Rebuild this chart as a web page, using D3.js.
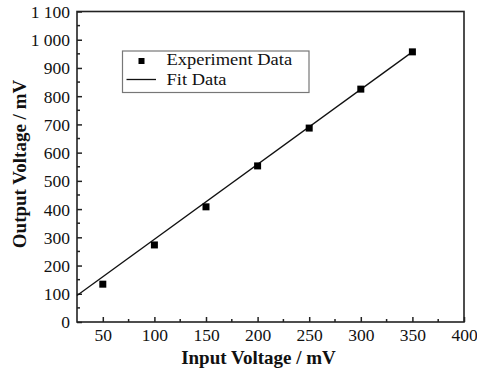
<!DOCTYPE html>
<html>
<head>
<meta charset="utf-8">
<script src="https://cdn.jsdelivr.net/npm/d3@7"></script>
<style>
  html, body { margin: 0; padding: 0; background: #fff; }
  svg { display: block; font-family: "Liberation Serif", "Times New Roman", serif; }
</style>
</head>
<body>
<svg id="chart" width="477" height="371"></svg>
<script>
// données
const inputV = [50, 100, 150, 200, 250, 300, 350];
const outputV = [134, 273, 408, 553, 687, 825, 957];
// droite d'ajustement (extrémités)
const fitX = [25, 350];
const fitY = [94, 957];
const xTicks = [50, 100, 150, 200, 250, 300, 350, 400];
const yTicks = [0, 100, 200, 300, 400, 500, 600, 700, 800, 900, 1000, 1100];
const legendLabels = ['Experiment Data', 'Fit Data'];

const svg = d3.select('#chart');
const L = 77, R = 464, T = 11.5, B = 322;

const x = d3.scaleLinear().domain([25, 400]).range([L, R]);
const y = d3.scaleLinear().domain([0, 1100]).range([B, T]);

const fmtY = v => v >= 1000 ? String(v).replace(/(\d)(\d{3})$/, '$1 $2') : String(v);

// cadre
svg.append('rect')
  .attr('x', L).attr('y', T).attr('width', R - L).attr('height', B - T)
  .attr('fill', 'none').attr('stroke', '#222').attr('stroke-width', 1.6);

// axe X (graduations vers l'intérieur)
const xMinor = d3.range(75, 400, 50);
const gx = svg.append('g').attr('transform', `translate(0,${B})`);
gx.call(d3.axisBottom(x).tickValues(xTicks).tickSize(-5).tickFormat(d => d));
gx.select('.domain').remove();
gx.selectAll('.tick line').attr('stroke', '#222').attr('stroke-width', 1.5);
gx.selectAll('.tick text')
  .attr('y', 19).attr('dy', 0)
  .attr('font-family', '"Liberation Serif", serif')
  .attr('font-size', 17.5).attr('fill', '#111');
gx.selectAll('.minor').data(xMinor).enter().append('line')
  .attr('x1', d => x(d)).attr('x2', d => x(d))
  .attr('y1', 0).attr('y2', -3)
  .attr('stroke', '#222').attr('stroke-width', 1.5);

// axe Y
const yMinor = d3.range(50, 1100, 100);
const gy = svg.append('g').attr('transform', `translate(${L},0)`);
gy.call(d3.axisLeft(y).tickValues(yTicks).tickSize(-5).tickFormat(fmtY));
gy.select('.domain').remove();
gy.selectAll('.tick line').attr('stroke', '#222').attr('stroke-width', 1.5);
gy.selectAll('.tick text')
  .attr('x', -7).attr('dy', '0.34em')
  .attr('font-family', '"Liberation Serif", serif')
  .attr('font-size', 17.5).attr('fill', '#111');
gy.selectAll('.minor').data(yMinor).enter().append('line')
  .attr('x1', 0).attr('x2', 3)
  .attr('y1', d => y(d)).attr('y2', d => y(d))
  .attr('stroke', '#222').attr('stroke-width', 1.5);

// droite d'ajustement
const fitPts = fitX.map((v, i) => [v, fitY[i]]);
svg.append('path')
  .datum(fitPts)
  .attr('d', d3.line().x(d => x(d[0])).y(d => y(d[1])))
  .attr('fill', 'none').attr('stroke', '#111').attr('stroke-width', 1.3);

// points expérimentaux
const s = 7;
svg.selectAll('.pt').data(inputV).enter().append('rect')
  .attr('class', 'pt')
  .attr('x', (d) => x(d) - s / 2)
  .attr('y', (d, i) => y(outputV[i]) - s / 2)
  .attr('width', s).attr('height', s)
  .attr('fill', '#000');

// légende (texte un peu étiré horizontalement, comme l'original)
const lg = svg.append('g');
lg.append('rect').attr('x', 122.5).attr('y', 51).attr('width', 186.5).attr('height', 41.5)
  .attr('fill', '#fff').attr('stroke', '#777').attr('stroke-width', 1.2);
lg.append('rect').attr('x', 141.5 - 3).attr('y', 61 - 3).attr('width', 6).attr('height', 6).attr('fill', '#000');
lg.append('line').attr('x1', 126.5).attr('x2', 156).attr('y1', 79.5).attr('y2', 79.5)
  .attr('stroke', '#111').attr('stroke-width', 1.3);
lg.selectAll('text').data(legendLabels).enter().append('text')
  .attr('transform', (d, i) => `translate(166.5,${64.5 + i * 20.5}) scale(1.12,1)`)
  .attr('font-size', 16.5).attr('fill', '#111')
  .text(d => d);

// titres des axes
svg.append('text')
  .attr('x', 258.5).attr('y', 364)
  .attr('text-anchor', 'middle')
  .attr('font-size', 19).attr('font-weight', 'bold').attr('fill', '#111')
  .text('Input Voltage / mV');
svg.append('text')
  .attr('transform', 'translate(26,164) rotate(-90)')
  .attr('text-anchor', 'middle')
  .attr('font-size', 19).attr('font-weight', 'bold').attr('fill', '#111')
  .text('Output Voltage / mV');
</script>
</body>
</html>
